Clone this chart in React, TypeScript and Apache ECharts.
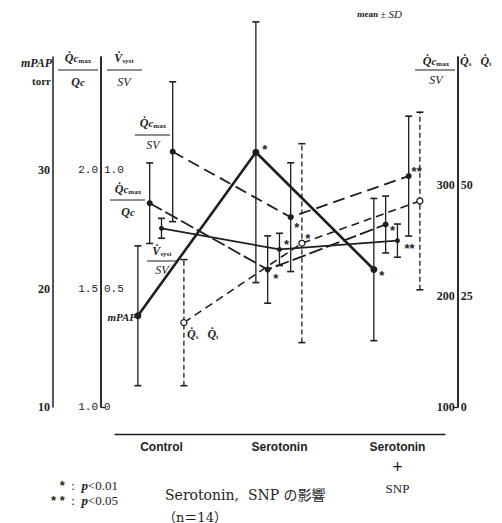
import React, { useEffect, useRef } from "react";
import * as echarts from "echarts";

// ---- data ----
const categories = ["Control", "Serotonin", "Serotonin + SNP"];
const mpapMean = [17.7, 31.5, 21.6];
const mpapSD = [5.9, 11.0, 6.0];
const qcMean = [1.86, 1.58, 1.77];
const qcSD = [0.17, 0.142, 0.12];
const vsystMean = [0.754, 0.665, 0.702];
const vsystSD = [0.042, 0.068, 0.07];
const qcsvMean = [330, 271, 308];
const qcsvSD = [63, 49, 54];
const qsqtMean = [19.0, 36.9, 46.4];
const qsqtSD = [14.2, 22.4, 20.0];
const mpapSig = ["", "*", "*"];
const qcSig = ["", "*", "*"];
const vsystSig = ["", "*", "**"];
const qcsvSig = ["", "*", "**"];
const qsqtSig = ["", "*", ""];
const mpapTicks = [10, 20, 30];
const qcTicks = [1.0, 1.5, 2.0];
const vsystTicks = [0, 0.5, 1.0];
const qcsvTicks = [100, 200, 300];
const qsqtTicks = [0, 25, 50];

const ink = "#1e1e1e";
const serif = "'Liberation Serif','DejaVu Serif',serif";
const sans = "'Liberation Sans','DejaVu Sans',sans-serif";
const mono = "'Liberation Mono','DejaVu Sans Mono',monospace";

const richQ: any = {
  q: { fontSize: 12, fontStyle: "italic", fontWeight: "bold", fontFamily: serif, fill: ink },
  c: { fontSize: 11, fontStyle: "italic", fontWeight: "bold", fontFamily: serif, fill: ink },
  m: { fontSize: 7, fontWeight: "bold", fontFamily: serif, fill: ink, padding: [5, 0, 0, 0] },
  s: { fontSize: 12, fontStyle: "italic", fontFamily: serif, fill: ink },
};

function txt(x: number, y: number, text: string, extra: any = {}) {
  return {
    type: "text",
    x,
    y,
    silent: true,
    style: {
      text,
      fill: ink,
      textAlign: "center",
      textVerticalAlign: "middle",
      rich: richQ,
      fontFamily: serif,
      fontSize: 12,
      ...extra,
    },
  };
}

function frac(cx: number, yNum: number, x1: number, x2: number, yBar: number, yDen: number, num: string, den: string) {
  return [
    txt(cx, yNum, num),
    { type: "line", silent: true, shape: { x1, y1: yBar, x2, y2: yBar }, style: { stroke: ink, lineWidth: 1 } },
    txt(cx, yDen, den),
  ];
}

const QCMAX = "{q|Q\u0307}{c|c}{m|max}";
const QC = "{q|Q}{c|c}";
const SV = "{s|SV}";
const VSYST = "{q|V\u0307}{m|syst}";
const QSQT = "{q|Q\u0307}{m|s}   {q|Q\u0307}{m|t}";

function errorSeries(offset: number, means: number[], sds: number[], yIdx: number, dashed: boolean) {
  return {
    type: "custom",
    xAxisIndex: 0,
    yAxisIndex: yIdx,
    clip: false,
    silent: true,
    z: 2,
    data: means.map((m, i) => [i + offset, m - sds[i], m + sds[i]]),
    encode: { x: 0, y: [1, 2] },
    renderItem: (params: any, api: any) => {
      const x = api.value(0);
      const lo = api.coord([x, api.value(1)]);
      const hi = api.coord([x, api.value(2)]);
      const w = 3.5;
      const st: any = { stroke: ink, lineWidth: 1.3 };
      if (dashed) st.lineDash = [5, 3];
      const cap = { stroke: ink, lineWidth: 1.6 };
      return {
        type: "group",
        children: [
          { type: "line", shape: { x1: lo[0], y1: lo[1], x2: hi[0], y2: hi[1] }, style: st },
          { type: "line", shape: { x1: lo[0] - w, y1: lo[1], x2: lo[0] + w, y2: lo[1] }, style: cap },
          { type: "line", shape: { x1: hi[0] - w, y1: hi[1], x2: hi[0] + w, y2: hi[1] }, style: cap },
        ],
      };
    },
  };
}

function lineSeries(
  name: string,
  offset: number,
  means: number[],
  sig: string[],
  yIdx: number,
  lineStyle: any,
  itemStyle: any,
  symbolSize: number,
  labelOffsets: number[][]
) {
  return {
    name,
    type: "line",
    xAxisIndex: 0,
    yAxisIndex: yIdx,
    silent: true,
    z: 3,
    symbol: "circle",
    symbolSize,
    lineStyle: { color: ink, ...lineStyle },
    itemStyle: { color: ink, ...itemStyle },
    data: means.map((m, i) => ({
      value: [i + offset, m],
      label: sig[i]
        ? {
            show: true,
            formatter: sig[i],
            position: "inside",
            offset: labelOffsets[i],
            color: ink,
            fontSize: 13,
            fontWeight: "bold",
            fontFamily: sans,
          }
        : { show: false },
    })),
  };
}

function yAx(pos: string, offset: number, min: number, max: number, ticks: number[], fmt: (v: number) => string, inside: boolean, font: any, foot: boolean) {
  return {
    type: "value",
    position: pos,
    offset,
    min,
    max,
    axisLine: { show: true, onZero: false, lineStyle: { color: ink, width: 1.5 } },
    axisTick: foot
      ? { show: true, customValues: [min], inside: true, length: 4, lineStyle: { color: ink, width: 1.3 } }
      : { show: false },
    splitLine: { show: false },
    axisLabel: {
      customValues: ticks,
      inside,
      margin: 3,
      color: ink,
      formatter: (v: number) => fmt(v),
      ...font,
    },
  };
}

export default function App() {
  const ref = useRef<HTMLDivElement>(null);
  useEffect(() => {
    document.body.style.margin = "0";
    const chart = echarts.init(ref.current!, null, { renderer: "svg" });
    const boldSerif = { fontFamily: serif, fontWeight: "bold", fontSize: 12 };
    const monoFont = { fontFamily: mono, fontSize: 11 };
    const noteRich = {
      n: { fontSize: 13, fontFamily: serif, fill: ink },
      a: { fontSize: 13, fontWeight: "bold", fontFamily: sans, fill: ink },
      p: { fontSize: 13, fontStyle: "italic", fontWeight: "bold", fontFamily: serif, fill: ink },
    };
    const jpFont = "'DejaVu Serif','Noto Sans CJK JP',serif";
    const graphic: any[] = [
      // left axis titles
      txt(52, 63, "mPAP", { textAlign: "right", fontStyle: "italic", fontWeight: "bold", fontSize: 12 }),
      txt(51, 81, "torr", { textAlign: "right", fontWeight: "bold", fontSize: 11 }),
      ...frac(78, 58, 58, 98, 70, 82, QCMAX, QC),
      ...frac(124, 58, 107, 142, 70, 82, VSYST, SV),
      // right axis titles
      ...frac(436, 61, 415, 455, 70, 80, QCMAX, SV),
      txt(460, 61, QSQT, { textAlign: "left" }),
      txt(357, 14, "{b|mean}{n| ± }{s|SD}", {
        textAlign: "left",
        rich: {
          b: { fontSize: 9, fontWeight: "bold", fontFamily: serif, fill: ink },
          n: { fontSize: 10, fontFamily: serif, fill: ink },
          s: { fontSize: 11, fontStyle: "italic", fontFamily: serif, fill: ink },
        },
      }),
      // in-plot labels
      ...frac(153, 123, 135, 170, 135, 145, QCMAX, SV),
      ...frac(128, 189, 110, 145, 200, 212, QCMAX, QC),
      ...frac(162, 251, 147, 178, 261, 270, VSYST, SV),
      txt(136, 317, "mPAP", { textAlign: "right", fontStyle: "italic", fontWeight: "bold", fontSize: 11 }),
      txt(187, 334, QSQT, { textAlign: "left" }),
      // bottom notes
      txt(118, 485, "{a|*}{n|  :  }{p|p}{n|<0.01}", { textAlign: "right", rich: noteRich }),
      txt(118, 500, "{a|* *}{n|  :  }{p|p}{n|<0.05}", { textAlign: "right", rich: noteRich }),
      txt(165, 495, "Serotonin,  SNP の影響", {
        textAlign: "left",
        fontSize: 14,
        fontFamily: jpFont,
      }),
      txt(163, 517, "（n＝14）", {
        textAlign: "left",
        fontSize: 13,
        fontFamily: jpFont,
      }),
    ];

    const option: any = {
      animation: false,
      backgroundColor: "#ffffff",
      grid: { left: 115, right: 57, top: 57, bottom: 116 },
      xAxis: {
        type: "value",
        min: -0.394,
        max: 2.403,
        position: "bottom",
        offset: 27,
        axisLine: { show: true, onZero: false, lineStyle: { color: ink, width: 1.4 } },
        axisTick: { show: false },
        splitLine: { show: false },
        axisLabel: {
          customValues: [0, 1, 2],
          margin: 3,
          formatter: (v: number) => {
            const name = categories[Math.round(v)] || "";
            const parts = name.split(" + ");
            if (parts.length > 1) return `{b|${parts[0]}}\n{p|+}\n{s|${parts[1]}}`;
            return `{b|${name}}`;
          },
          rich: {
            b: { fontSize: 12, fontWeight: "bold", fontFamily: sans, color: ink, lineHeight: 20 },
            p: { fontSize: 18, fontFamily: sans, color: ink, lineHeight: 20 },
            s: { fontSize: 13, fontFamily: serif, color: ink, lineHeight: 22 },
          },
        },
      },
      yAxis: [
        yAx("left", 62, 10, 10 + 350 / 11.85, mpapTicks, (v) => String(Math.round(v)), false, boldSerif, false),
        yAx("left", 14, 1, 1 + 350 / 237, qcTicks, (v) => v.toFixed(1), false, monoFont, false),
        yAx("left", 14, 0, 350 / 237, vsystTicks, (v) => (v === 0 ? "0" : v.toFixed(1)), true, monoFont, true),
        yAx("right", 12.7, 100, 100 + 350 / 1.11, qcsvTicks, (v) => String(Math.round(v)), true, boldSerif, false),
        yAx("right", 12.7, 0, 350 / 4.44, qsqtTicks, (v) => String(Math.round(v)), false, boldSerif, true),
      ],
      graphic,
      series: [
        errorSeries(-0.2, mpapMean, mpapSD, 0, false),
        errorSeries(-0.1, qcMean, qcSD, 1, false),
        errorSeries(0, vsystMean, vsystSD, 2, false),
        errorSeries(0.095, qcsvMean, qcsvSD, 3, false),
        errorSeries(0.19, qsqtMean, qsqtSD, 4, true),
        lineSeries("mPAP", -0.2, mpapMean, mpapSig, 0, { width: 2.6, type: "solid" }, {}, 7, [
          [0, 0],
          [9, -3],
          [8, 6],
        ]),
        lineSeries("Qcmax/Qc", -0.1, qcMean, qcSig, 1, { width: 1.8, type: [14, 4] }, {}, 6, [
          [0, 0],
          [8, 9],
          [7, 6],
        ]),
        lineSeries("Vsyst/SV", 0, vsystMean, vsystSig, 2, { width: 1.8, type: "solid" }, {}, 5, [
          [0, 0],
          [7, -5],
          [12, 8],
        ]),
        lineSeries("Qcmax/SV", 0.095, qcsvMean, qcsvSig, 3, { width: 1.8, type: [12, 6] }, {}, 6, [
          [0, 0],
          [6, 10],
          [8, -5],
        ]),
        lineSeries(
          "Qs/Qt",
          0.19,
          qsqtMean,
          qsqtSig,
          4,
          { width: 1.6, type: [8, 5] },
          { color: "#ffffff", borderColor: ink, borderWidth: 1.3 },
          6,
          [
            [0, 0],
            [6, -5],
            [0, 0],
          ]
        ),
      ],
    };
    chart.setOption(option);
    return () => chart.dispose();
  }, []);
  return (
    <div
      ref={ref}
      style={{ position: "absolute", left: 0, top: 0, width: 502, height: 523, background: "#fff" }}
    />
  );
}
